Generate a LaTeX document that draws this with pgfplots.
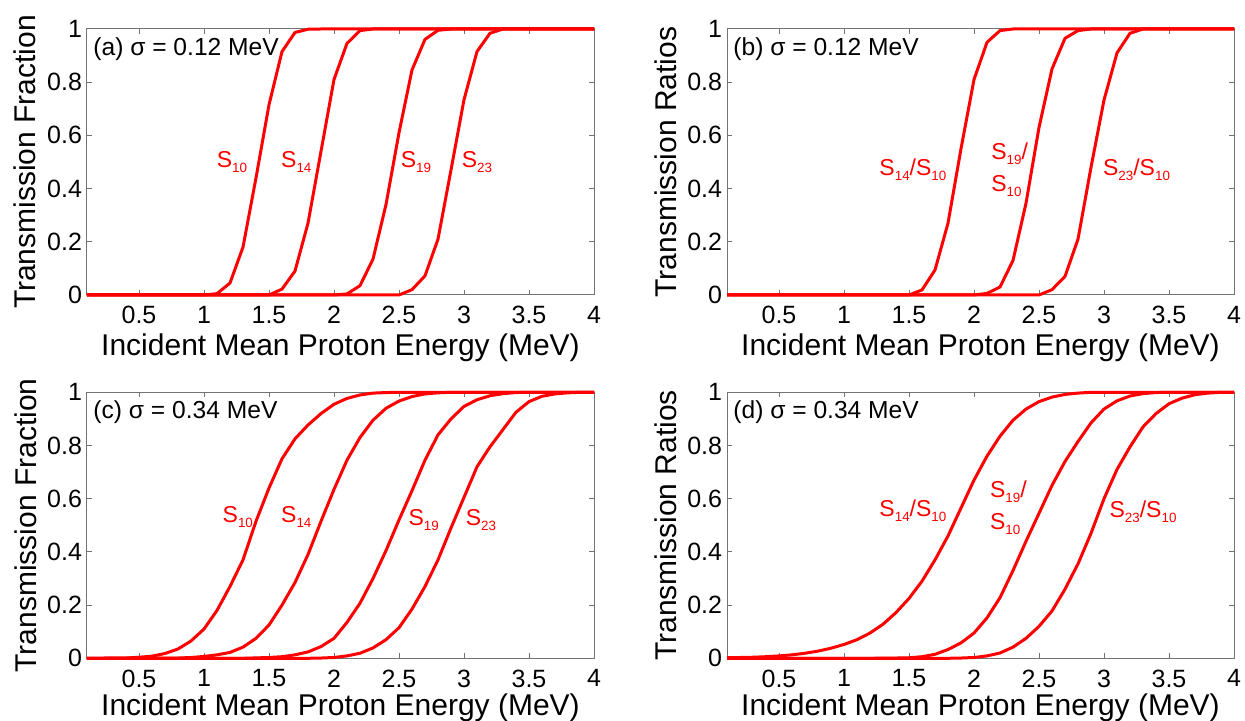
\documentclass[border=0pt]{standalone}
\usepackage{fontspec}
\setmainfont{Liberation Sans}
\usepackage{pgfplots}
\pgfplotsset{compat=1.18}

\definecolor{framegray}{gray}{0.45}
% MATLAB-like small subscripts in the curve labels
\newcommand{\sub}[1]{\raisebox{-2.5pt}{\fontsize{6.7}{7}\selectfont #1}}

\pgfplotsset{
  panel/.style={
    scale only axis, width=253.5pt, height=133pt,
    xmin=0.1, xmax=4, ymin=0, ymax=1,
    xtick={0.5,1,1.5,2,2.5,3,3.5,4},
    ytick={0,0.2,0.4,0.6,0.8,1},
    axis line style={draw=framegray, line width=0.5pt},
    tick style={draw=framegray, line width=0.5pt},
    major tick length=2.5pt,
    ticklabel style={font=\fontsize{12.5}{14}\selectfont,
      /pgf/number format/assume math mode=true},
    xticklabel style={anchor=north, inner sep=0pt, yshift=-5.5pt},
    yticklabel style={anchor=east, inner sep=0pt, xshift=-2.3pt},
    label style={font=\fontsize{15}{18}\selectfont},
    xlabel style={at={([yshift=-19pt]axis description cs:0.5,0)}, anchor=north, inner sep=0pt},
    ylabel style={at={([xshift=-25.5pt]axis description cs:0,0.5)}, anchor=base, inner sep=0pt},
    xlabel={Incident Mean Proton Energy (MeV)},
    clip=false,
    every axis plot post/.append style={red, solid, line width=1.5pt, line join=round, mark=none},
  },
}
\tikzset{
  lab/.style={red, inner sep=0pt, font=\fontsize{11.5}{16}\selectfont},
  ptitle/.style={anchor=north west, inner sep=0pt, font=\fontsize{12.3}{14}\selectfont},
}

\begin{document}
\begin{tikzpicture}
\useasboundingbox (0,0) rectangle (622.5pt,360.5pt);

% (a)
\begin{axis}[panel, at={(43.5pt,213pt)}, anchor=south west, ylabel={Transmission Fraction}]
\addplot coordinates {(0.1,0) (1.0,0) (1.1,0.005) (1.2,0.045) (1.3,0.18) (1.4,0.44) (1.5,0.715) (1.6,0.915) (1.7,0.987) (1.8,0.999) (1.9,1) (4,1)};
\addplot coordinates {(0.1,0) (1.5,0) (1.6,0.022) (1.7,0.09) (1.8,0.27) (1.9,0.54) (2.0,0.81) (2.1,0.946) (2.2,0.994) (2.3,1) (4,1)};
\addplot coordinates {(0.1,0) (2.0,0) (2.1,0.004) (2.2,0.035) (2.3,0.135) (2.4,0.34) (2.5,0.61) (2.6,0.846) (2.7,0.961) (2.8,0.995) (2.9,1) (4,1)};
\addplot coordinates {(0.1,0) (2.5,0) (2.6,0.02) (2.7,0.072) (2.8,0.21) (2.9,0.47) (3.0,0.734) (3.1,0.915) (3.2,0.984) (3.3,1) (4,1)};
\node[ptitle] at ([xshift=3pt,yshift=-4pt]rel axis cs:0,1) {(a) σ = 0.12 MeV};
\node[lab] at (axis cs:1.215,0.5) {S\sub{10}};
\node[lab] at (axis cs:1.71,0.5) {S\sub{14}};
\node[lab] at (axis cs:2.63,0.5) {S\sub{19}};
\node[lab] at (axis cs:3.10,0.5) {S\sub{23}};
\end{axis}

% (b)
\begin{axis}[panel, at={(363.5pt,213pt)}, anchor=south west, ylabel={Transmission Ratios}]
\addplot coordinates {(0.1,0) (1.5,0) (1.6,0.019) (1.7,0.094) (1.8,0.27) (1.9,0.55) (2.0,0.81) (2.1,0.95) (2.2,0.994) (2.3,1) (4,1)};
\addplot coordinates {(0.1,0) (2.0,0) (2.1,0.006) (2.2,0.03) (2.3,0.13) (2.4,0.345) (2.5,0.63) (2.6,0.85) (2.7,0.965) (2.8,0.994) (2.9,1) (4,1)};
\addplot coordinates {(0.1,0) (2.5,0) (2.6,0.02) (2.7,0.07) (2.8,0.21) (2.9,0.48) (3.0,0.733) (3.1,0.91) (3.2,0.984) (3.3,1) (4,1)};
\node[ptitle] at ([xshift=3pt,yshift=-4pt]rel axis cs:0,1) {(b) σ = 0.12 MeV};
\node[lab] at (axis cs:1.53,0.47) {S\sub{14}/S\sub{10}};
\node[lab, align=left, anchor=west] at (axis cs:2.13,0.47) {S\sub{19}/\\S\sub{10}};
\node[lab] at (axis cs:3.25,0.47) {S\sub{23}/S\sub{10}};
\end{axis}

% (c)
\begin{axis}[panel, at={(43.5pt,31.35pt)}, anchor=south west, ylabel={Transmission Fraction},
  xlabel style={at={([yshift=-17.5pt]axis description cs:0.5,0)}}]
\addplot coordinates {(0.1,0) (0.2,0) (0.3,0.0005) (0.4,0.001) (0.5,0.004) (0.6,0.008) (0.7,0.018) (0.8,0.035) (0.9,0.065) (1.0,0.11) (1.1,0.18) (1.2,0.27) (1.3,0.37) (1.4,0.515) (1.5,0.64) (1.6,0.75) (1.7,0.825) (1.8,0.877) (1.9,0.92) (2.0,0.955) (2.1,0.977) (2.2,0.99) (2.3,0.997) (2.4,0.999) (2.5,1) (4,1)};
\addplot coordinates {(0.1,0) (0.8,0.001) (0.9,0.003) (1.0,0.007) (1.1,0.013) (1.2,0.022) (1.3,0.042) (1.4,0.075) (1.5,0.125) (1.6,0.2) (1.7,0.285) (1.8,0.39) (1.9,0.515) (2.0,0.635) (2.1,0.745) (2.2,0.83) (2.3,0.895) (2.4,0.94) (2.5,0.967) (2.6,0.984) (2.7,0.994) (2.8,0.998) (2.9,1) (4,1)};
\addplot coordinates {(0.1,0) (1.3,0) (1.5,0.003) (1.6,0.006) (1.7,0.013) (1.8,0.024) (1.9,0.044) (2.0,0.075) (2.1,0.135) (2.2,0.207) (2.3,0.3) (2.4,0.405) (2.5,0.52) (2.6,0.63) (2.7,0.745) (2.8,0.84) (2.9,0.9) (3.0,0.947) (3.1,0.972) (3.2,0.987) (3.3,0.995) (3.4,0.999) (3.5,1) (4,1)};
\addplot coordinates {(0.1,0) (1.8,0) (1.9,0.001) (2.0,0.003) (2.1,0.009) (2.2,0.019) (2.3,0.039) (2.4,0.07) (2.5,0.115) (2.6,0.185) (2.7,0.27) (2.8,0.37) (2.9,0.49) (3.0,0.605) (3.1,0.72) (3.2,0.795) (3.3,0.86) (3.4,0.925) (3.5,0.965) (3.6,0.985) (3.7,0.994) (3.8,0.998) (3.9,1) (4,1)};
\node[ptitle] at ([xshift=3pt,yshift=-4pt]rel axis cs:0,1) {(c) σ = 0.34 MeV};
\node[lab] at (axis cs:1.26,0.53) {S\sub{10}};
\node[lab] at (axis cs:1.71,0.53) {S\sub{14}};
\node[lab] at (axis cs:2.69,0.52) {S\sub{19}};
\node[lab] at (axis cs:3.13,0.52) {S\sub{23}};
\end{axis}

% (d)
\begin{axis}[panel, at={(363.5pt,31.35pt)}, anchor=south west, ylabel={Transmission Ratios},
  xlabel style={at={([yshift=-17.5pt]axis description cs:0.5,0)}}]
\addplot coordinates {(0.1,0.002) (0.2,0.003) (0.3,0.004) (0.4,0.006) (0.5,0.009) (0.6,0.013) (0.7,0.019) (0.8,0.027) (0.9,0.038) (1.0,0.052) (1.1,0.07) (1.2,0.095) (1.3,0.128) (1.4,0.172) (1.5,0.225) (1.6,0.29) (1.7,0.37) (1.8,0.46) (1.9,0.565) (2.0,0.67) (2.1,0.76) (2.2,0.835) (2.3,0.895) (2.4,0.937) (2.5,0.965) (2.6,0.982) (2.7,0.992) (2.8,0.997) (2.9,1) (4,1)};
\addplot coordinates {(0.1,0) (1.2,0) (1.4,0.001) (1.5,0.002) (1.6,0.006) (1.7,0.015) (1.8,0.033) (1.9,0.058) (2.0,0.095) (2.1,0.152) (2.2,0.228) (2.3,0.33) (2.4,0.44) (2.5,0.545) (2.6,0.65) (2.7,0.74) (2.8,0.815) (2.9,0.885) (3.0,0.937) (3.1,0.968) (3.2,0.986) (3.3,0.995) (3.4,0.999) (3.5,1) (4,1)};
\addplot coordinates {(0.1,0) (1.8,0) (1.9,0.001) (2.0,0.003) (2.1,0.009) (2.2,0.02) (2.3,0.042) (2.4,0.075) (2.5,0.12) (2.6,0.178) (2.7,0.26) (2.8,0.355) (2.9,0.47) (3.0,0.6) (3.1,0.71) (3.2,0.795) (3.3,0.87) (3.4,0.92) (3.5,0.957) (3.6,0.978) (3.7,0.991) (3.8,0.997) (3.9,1) (4,1)};
\node[ptitle] at ([xshift=3pt,yshift=-4pt]rel axis cs:0,1) {(d) σ = 0.34 MeV};
\node[lab] at (axis cs:1.53,0.555) {S\sub{14}/S\sub{10}};
\node[lab, align=left, anchor=west] at (axis cs:2.12,0.565) {S\sub{19}/\\S\sub{10}};
\node[lab] at (axis cs:3.30,0.55) {S\sub{23}/S\sub{10}};
\end{axis}
\end{tikzpicture}
\end{document}
